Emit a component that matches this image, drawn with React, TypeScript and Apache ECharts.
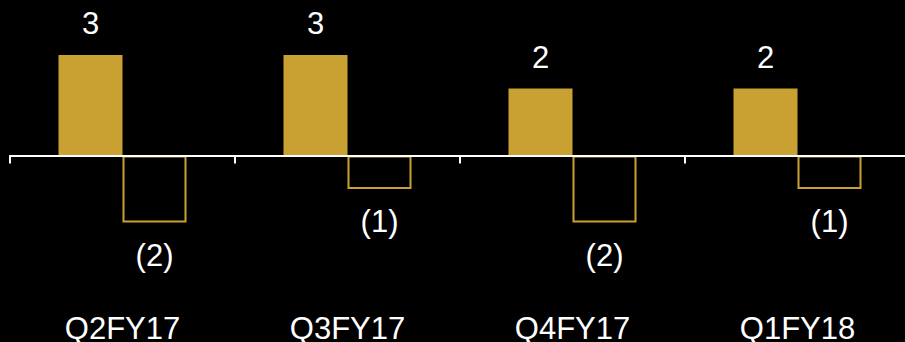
import React, { useEffect, useRef } from "react";
import * as echarts from "echarts";

const categories = ["Q2FY17", "Q3FY17", "Q4FY17", "Q1FY18"];
const positiveValues = [3, 3, 2, 2];
const negativeValues = [-2, -1, -2, -1];

const GOLD = "#C9A133";
const FONT = "'Liberation Sans', Arial, sans-serif";

export default function App() {
  const ref = useRef<HTMLDivElement>(null);
  useEffect(() => {
    if (!ref.current) return;
    const chart = echarts.init(ref.current, undefined, { renderer: "svg" });
    chart.setOption({
      animation: false,
      backgroundColor: "#000000",
      grid: {
        left: 10,
        right: -5,
        top: 21.5,
        bottom: 52.5,
        containLabel: false,
        outerBoundsMode: "none",
      },
      xAxis: {
        type: "category",
        data: categories,
        z: 5,
        axisLine: { onZero: true, lineStyle: { color: "#FFFFFF", width: 2 } },
        axisTick: { show: true, length: 8, lineStyle: { color: "#FFFFFF", width: 2 } },
        axisLabel: {
          color: "#FFFFFF",
          fontSize: 31,
          lineHeight: 24,
          fontFamily: FONT,
          margin: 27,
        },
      },
      yAxis: {
        type: "value",
        min: -4,
        max: 4,
        show: false,
        splitLine: { show: false },
      },
      series: [
        {
          type: "bar",
          data: positiveValues,
          barWidth: 64,
          barGap: "0%",
          itemStyle: { color: GOLD },
          label: {
            show: true,
            position: "top",
            distance: 16,
            color: "#FFFFFF",
            fontSize: 31,
            fontFamily: FONT,
          },
        },
        {
          type: "bar",
          data: negativeValues,
          barWidth: 64,
          barGap: "0%",
          itemStyle: { color: "transparent", borderColor: GOLD, borderWidth: 2 },
          label: {
            show: true,
            position: "bottom",
            distance: 17,
            color: "#FFFFFF",
            fontSize: 31,
            fontFamily: FONT,
            formatter: (p: any) => "(" + Math.abs(p.value) + ")",
          },
        },
      ],
    });
    return () => chart.dispose();
  }, []);
  return (
    <div
      ref={ref}
      style={{ position: "fixed", left: 0, top: 0, width: 905, height: 342 }}
    />
  );
}
